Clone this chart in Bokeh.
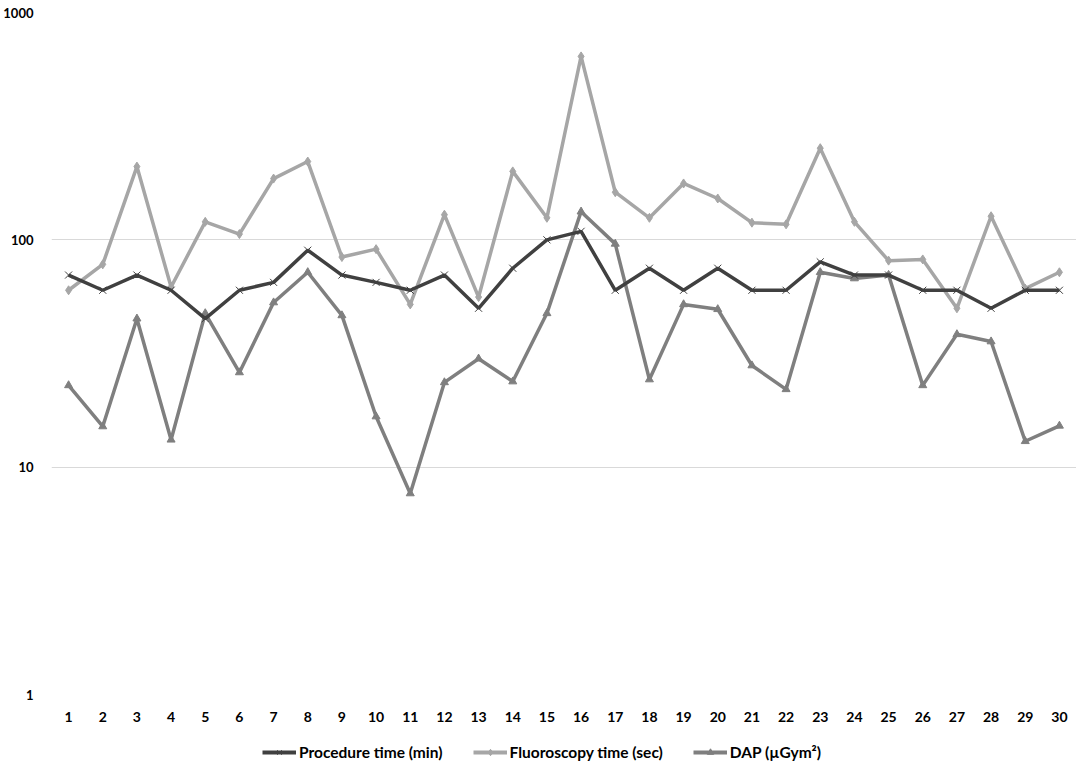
from bokeh.plotting import figure
from bokeh.layouts import column
from bokeh.models import FactorRange, FixedTicker, Legend, LegendItem
from bokeh.embed import file_html
from bokeh.resources import INLINE

cases = [str(i) for i in range(1, 31)]
procedure = [70, 60, 70, 60, 45, 60, 65, 90, 70, 65, 60, 70, 50, 75, 100, 109, 60, 75, 60, 75, 60, 60, 80, 70, 70, 60, 60, 50, 60, 60]
fluoro = [60, 78, 210, 62, 120, 106, 186, 221, 84, 91, 52, 129, 56, 200, 125, 641, 162, 125, 177, 152, 119, 117, 253, 120, 81, 82, 50, 127, 61, 72]
dap = [22.9, 15.1, 45, 13.2, 47.5, 26.1, 53, 72, 46.5, 16.7, 7.66, 23.6, 30, 23.8, 47.5, 133, 96, 24.3, 52, 49.5, 28, 22, 72, 67.6, 70, 22.9, 38.4, 35.7, 13, 15.2]
y_ticks = [1, 10, 100, 1000]
y_tick_labels = ["1", "10", "100", "1000"]
names = ["Procedure time (min)", "Fluoroscopy time (sec)", "DAP (\u00b5Gym\u00b2)"]

FONT = "Lato"
C_PROC, C_FLUO, C_DAP = "#404040", "#a6a6a6", "#7f7f7f"
W = 1076

p = figure(width=W, height=744, x_range=FactorRange(*cases, range_padding=0),
           y_axis_type="log", y_range=(1, 1000),
           output_backend="svg", toolbar_location=None,
           min_border_left=42, min_border_right=0, min_border_top=12, min_border_bottom=50)
p.outline_line_color = None
p.xgrid.grid_line_color = None
p.ygrid.grid_line_color = "#d9d9d9"
p.ygrid.grid_line_width = 1
p.ygrid.minor_grid_line_color = None

p.yaxis.ticker = FixedTicker(ticks=y_ticks, minor_ticks=[])
p.yaxis.major_label_overrides = {t: l for t, l in zip(y_ticks, y_tick_labels)}

for ax in (p.xaxis, p.yaxis):
    ax.axis_line_color = None
    ax.major_tick_line_color = None
    ax.minor_tick_line_color = None
    ax.major_label_text_font = FONT
    ax.major_label_text_font_style = "bold"
    ax.major_label_text_font_size = "14px"
    ax.major_label_text_color = "#000000"
p.yaxis.major_label_text_font_size = "13px"
p.yaxis.major_label_standoff = 12
p.xaxis.major_label_standoff = 11

p.line(cases, fluoro, line_color=C_FLUO, line_width=3.5)
p.scatter(cases, fluoro, marker="diamond", size=9, fill_color=C_FLUO, line_color=C_FLUO)
p.line(cases, dap, line_color=C_DAP, line_width=3.5)
p.scatter(cases, dap, marker="triangle", size=8, fill_color=C_DAP, line_color=C_DAP)
p.line(cases, procedure, line_color=C_PROC, line_width=3.5)
p.scatter(cases, procedure, marker="x", size=10, line_color=C_PROC, line_width=1)

# legend strip (its glyphs sit outside the strip's visible range)
lg = figure(width=W, height=18, x_range=(0, 1), y_range=(0, 1),
            output_backend="svg", toolbar_location=None,
            min_border_left=0, min_border_right=0, min_border_top=0, min_border_bottom=0)
lg.axis.visible = False
lg.grid.visible = False
lg.outline_line_color = None
hx, hy = [5, 6], [5, 5]
e0l = lg.line(hx, hy, line_color=C_PROC, line_width=4)
e0m = lg.scatter(hx, hy, marker="x", size=10, line_color=C_PROC, line_width=1)
e1l = lg.line(hx, hy, line_color=C_FLUO, line_width=4)
e1m = lg.scatter(hx, hy, marker="diamond", size=8, fill_color=C_FLUO, line_color=C_FLUO)
e2l = lg.line(hx, hy, line_color=C_DAP, line_width=4)
e2m = lg.scatter(hx, hy, marker="triangle", size=8, fill_color=C_DAP, line_color=C_DAP)

legend = Legend(items=[
    LegendItem(label=names[0], renderers=[e0l, e0m]),
    LegendItem(label=names[1], renderers=[e1l, e1m]),
    LegendItem(label=names[2], renderers=[e2l, e2m]),
], orientation="horizontal", location=(211, 1),
    label_text_font=FONT, label_text_font_style="bold", label_text_font_size="15.5px",
    label_text_color="#000000",
    border_line_color=None, background_fill_alpha=0, spacing=30,
    glyph_width=34, glyph_height=16, label_standoff=3, padding=0, margin=0,
    label_height=16)
lg.add_layout(legend, "center")

layout = column(p, lg, spacing=0)
open("out.html", "w").write(file_html(layout, INLINE))
